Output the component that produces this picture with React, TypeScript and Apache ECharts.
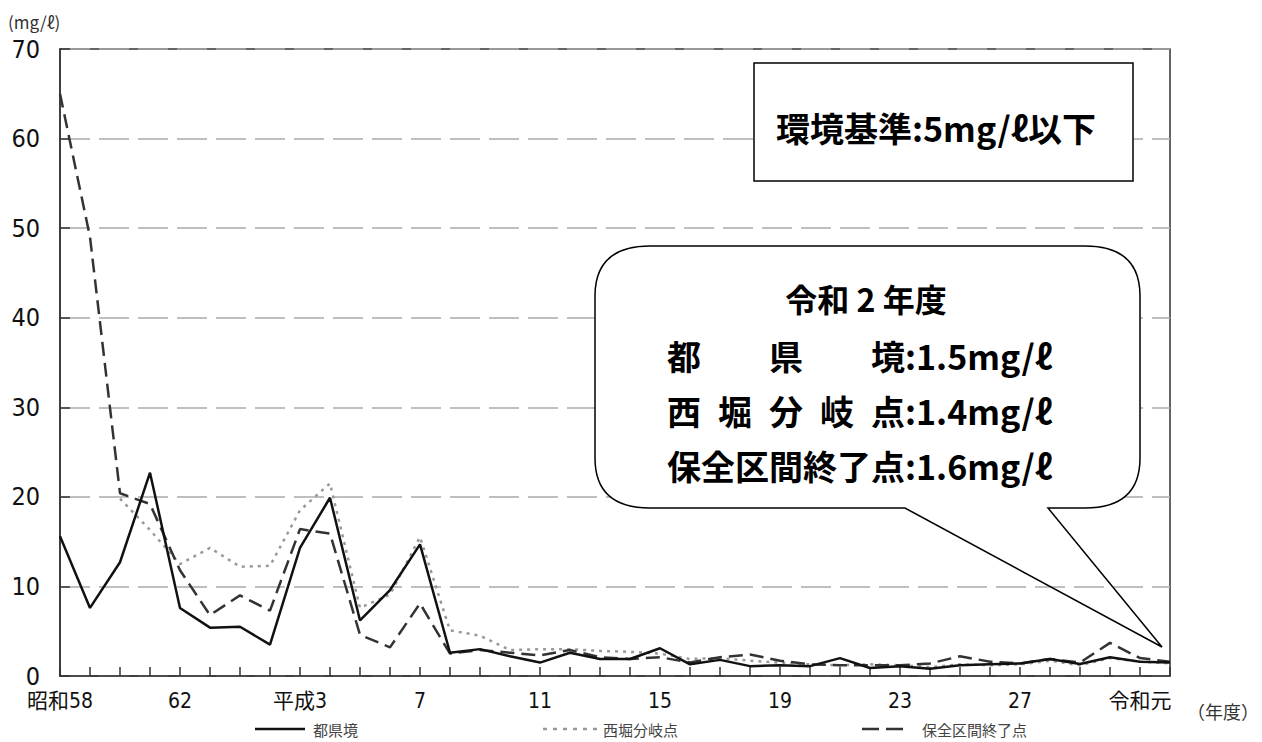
import React, { useEffect, useRef } from "react";
import * as echarts from "echarts";

const categories = [
  "昭和58", "59", "60", "61", "62", "63", "平成元", "2", "平成3", "4",
  "5", "6", "7", "8", "9", "10", "11", "12", "13", "14",
  "15", "16", "17", "18", "19", "20", "21", "22", "23", "24",
  "25", "26", "27", "28", "29", "30", "令和元", "2",
];

const seriesNames = ["都県境", "西堀分岐点", "保全区間終了点"];

const tokenkyo = [
  15.6, 7.6, 12.7, 22.7, 7.6, 5.4, 5.5, 3.5, 14.3, 19.9,
  6.2, 9.6, 14.7, 2.6, 3.0, 2.2, 1.5, 2.6, 1.9, 1.9,
  3.1, 1.3, 1.8, 1.1, 1.2, 1.1, 2.0, 0.9, 1.1, 0.8,
  1.2, 1.3, 1.4, 1.9, 1.35, 2.1, 1.6, 1.5,
];

const nishibori = [
  null, null, 19.8, 16.3, 12.5, 14.3, 12.2, 12.3, 18.5, 21.5,
  7.6, 9.1, 15.5, 5.1, 4.5, 2.9, 3.0, 3.0, 2.8, 2.7,
  2.5, 1.9, 2.0, 1.7, 1.5, 1.3, 1.2, 1.3, 1.2, 1.0,
  1.3, 1.2, 1.3, 1.7, 1.2, 2.0, 1.6, 1.4,
];

const hozen = [
  65.0, 49.0, 20.4, 19.2, 11.8, 6.8, 9.0, 7.3, 16.4, 15.9,
  4.6, 3.2, 8.1, 2.5, 2.9, 2.6, 2.3, 2.9, 2.1, 1.9,
  2.1, 1.5, 2.1, 2.4, 1.7, 1.3, 1.2, 1.2, 1.2, 1.4,
  2.2, 1.6, 1.4, 1.9, 1.5, 3.7, 2.0, 1.6,
];

const yMax = 70;
const yInterval = 10;

const standardText = "環境基準:5mg/ℓ以下";
const calloutTitle = "令和 2 年度";
const calloutLabels = [
  { chars: ["都", "県", "境"], value: ":1.5mg/ℓ" },
  { chars: ["西", "堀", "分", "岐", "点"], value: ":1.4mg/ℓ" },
  { chars: ["保", "全", "区", "間", "終", "了", "点"], value: ":1.6mg/ℓ" },
];

const bubbleOutline =
  "M650 246 L1085 246 Q1140 246 1140 296 L1140 458 Q1140 508 1085 508 L1048 508 L1162 647 L905 508 L650 508 Q595 508 595 458 L595 296 Q595 246 650 246 Z";
const bubbleBody =
  "M650 246 L1085 246 Q1140 246 1140 296 L1140 458 Q1140 508 1085 508 L650 508 Q595 508 595 458 L595 296 Q595 246 650 246 Z";

echarts.graphic.registerShape("bubbleOutline", echarts.graphic.extendPath(bubbleOutline, {}));
echarts.graphic.registerShape("bubbleBody", echarts.graphic.extendPath(bubbleBody, {}));

const CJK = '"Noto Sans CJK JP", sans-serif';
const NARROW = '"Liberation Sans Narrow", "DejaVu Sans Condensed", "Noto Sans CJK JP", sans-serif';

const seriesColors = ["#111", "#999", "#333"];
const seriesDash: any[] = ["solid", [3, 5], [14, 7]];
const legendLayout = [
  { x1: 255, x2: 305, tx: 313 },
  { x1: 543, x2: 600, tx: 603 },
  { x1: 862, x2: 903, tx: 922 },
];

function buildLegend() {
  const els: any[] = [];
  const y = 729;
  seriesNames.forEach((name, i) => {
    const lay = legendLayout[i];
    const dash = seriesDash[i];
    els.push({
      type: "line",
      shape: { x1: lay.x1, y1: y, x2: lay.x2, y2: y },
      style: {
        stroke: seriesColors[i],
        lineWidth: 2.5,
        lineDash: dash === "solid" ? null : i === 2 ? [17, 7] : [4, 6],
      },
    });
    els.push({
      type: "text",
      x: lay.tx,
      y,
      style: { text: name, fontSize: 15, fill: "#444", fontFamily: CJK, align: "left", verticalAlign: "middle" },
    });
  });
  return els;
}

function buildCalloutTexts() {
  const els: any[] = [];
  const cell = 34;
  const x0 = 667;
  const span = cell * 6;
  const ys = [355, 410, 465];
  calloutLabels.forEach((line, li) => {
    const n = line.chars.length;
    line.chars.forEach((ch, ci) => {
      const x = x0 + (n > 1 ? (ci * span) / (n - 1) : 0);
      els.push({
        type: "text",
        x,
        y: ys[li],
        z: 110,
        style: {
          text: ch,
          fontSize: 34,
          fontWeight: "bold",
          fontFamily: CJK,
          fill: "#000",
          align: "left",
          verticalAlign: "middle",
        },
      });
    });
    els.push({
      type: "text",
      x: x0 + cell * 7,
      y: ys[li],
      z: 110,
      style: {
        text: line.value,
        fontSize: 34,
        fontWeight: "bold",
        fontFamily: CJK,
        fill: "#000",
        align: "left",
        verticalAlign: "middle",
      },
    });
  });
  return els;
}

export default function App() {
  const ref = useRef<HTMLDivElement>(null);

  useEffect(() => {
    if (!ref.current) return;
    const chart = echarts.init(ref.current, undefined, { renderer: "svg" });

    chart.setOption({
      animation: false,
      backgroundColor: "#fff",
      grid: {
        left: 60,
        top: 49,
        width: 1110,
        height: 627,
        show: true,
        borderColor: "#333",
        borderWidth: 1.5,
        containLabel: false,
      },
      legend: { show: false },
      xAxis: {
        type: "category",
        data: categories,
        boundaryGap: false,
        axisLine: { show: true, lineStyle: { color: "#333", width: 1.5 } },
        axisTick: { show: true, inside: true, length: 9, interval: 0, lineStyle: { color: "#333", width: 1.5 } },
        axisLabel: {
          interval: 3,
          fontSize: 21,
          margin: 14,
          color: "#111",
          fontFamily: NARROW,
        },
        splitLine: { show: false },
      },
      yAxis: {
        type: "value",
        min: 0,
        max: yMax,
        interval: yInterval,
        axisLine: { show: true, lineStyle: { color: "#333", width: 1.5 } },
        axisTick: { show: true, inside: true, length: 10, lineStyle: { color: "#333", width: 1.5 } },
        axisLabel: { fontSize: 25, margin: 20, color: "#111", fontFamily: NARROW },
        splitLine: { show: true, lineStyle: { color: "#aaa", width: 1.5, type: [30, 9] } },
      },
      series: [
        {
          name: seriesNames[1],
          type: "line",
          data: nishibori,
          symbol: "none",
          connectNulls: false,
          z: 3,
          lineStyle: { color: seriesColors[1], width: 2.5, type: seriesDash[1] },
        },
        {
          name: seriesNames[2],
          type: "line",
          data: hozen,
          symbol: "none",
          z: 4,
          lineStyle: { color: seriesColors[2], width: 2.5, type: seriesDash[2] },
        },
        {
          name: seriesNames[0],
          type: "line",
          data: tokenkyo,
          symbol: "none",
          z: 5,
          lineStyle: { color: seriesColors[0], width: 2.5, type: "solid" },
        },
      ],
      graphic: [
        {
          type: "text",
          x: 8,
          y: 21,
          style: { text: "(mg/ℓ)", fontSize: 17, fill: "#333", fontFamily: CJK, align: "left", verticalAlign: "middle" },
        },
        {
          type: "text",
          x: 1187,
          y: 711,
          style: { text: "（年度）", fontSize: 18, fill: "#333", fontFamily: CJK, align: "left", verticalAlign: "middle" },
        },
        ...buildLegend(),
        {
          type: "rect",
          z: 100,
          shape: { x: 754, y: 63, width: 379, height: 118 },
          style: { fill: "#fff", stroke: "#000", lineWidth: 1.5 },
        },
        {
          type: "text",
          x: 776,
          y: 127,
          z: 110,
          style: { text: standardText, fontSize: 34, fontWeight: "bold", fill: "#000", fontFamily: CJK, align: "left", verticalAlign: "middle" },
        },
        {
          type: "bubbleBody",
          x: 0,
          y: 0,
          z: 100,
          style: { fill: "#fff", stroke: "none" },
        },
        {
          type: "bubbleOutline",
          x: 0,
          y: 0,
          z: 101,
          style: { fill: "none", stroke: "#000", lineWidth: 1.5 },
        },
        {
          type: "text",
          x: 866,
          y: 298,
          z: 110,
          style: { text: calloutTitle, fontSize: 32, fontWeight: "bold", fill: "#000", fontFamily: CJK, align: "center", verticalAlign: "middle" },
        },
        ...buildCalloutTexts(),
      ],
    });

    return () => chart.dispose();
  }, []);

  return (
    <div
      ref={ref}
      style={{ position: "fixed", left: 0, top: 0, width: "1262px", height: "742px", background: "#fff" }}
    />
  );
}
